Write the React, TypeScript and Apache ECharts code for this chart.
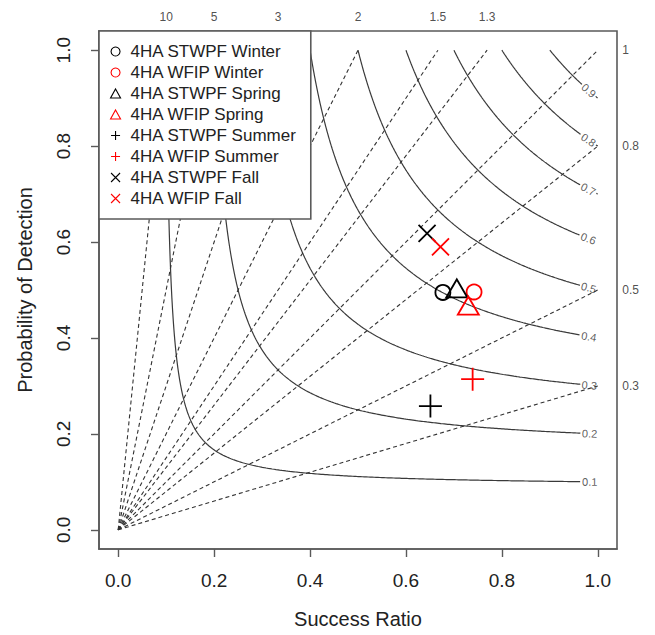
import React, { useEffect, useRef } from "react";
import * as echarts from "echarts";

// ---- data ----
const seriesNames = [
  "4HA STWPF Winter",
  "4HA WFIP Winter",
  "4HA STWPF Spring",
  "4HA WFIP Spring",
  "4HA STWPF Summer",
  "4HA WFIP Summer",
  "4HA STWPF Fall",
  "4HA WFIP Fall",
];
const successRatio = [0.677, 0.742, 0.706, 0.73, 0.651, 0.739, 0.644, 0.672];
const probDetection = [0.495, 0.496, 0.497, 0.461, 0.258, 0.314, 0.618, 0.59];
const seriesColors = ["#000000", "#ff0000", "#000000", "#ff0000", "#000000", "#ff0000", "#000000", "#ff0000"];
const seriesKinds = ["circle", "circle", "triangle", "triangle", "plus", "plus", "cross", "cross"];

// reference lines of the performance diagram
const csiLevels = [0.1, 0.2, 0.3, 0.4, 0.5, 0.6, 0.7, 0.8, 0.9];
const biasLevels = [0.3, 0.5, 0.8, 1, 1.3, 1.5, 2, 3, 5, 10];
const biasLabels = ["0.3", "0.5", "0.8", "1", "1.3", "1.5", "2", "3", "5", "10"];
const tickValues = [0, 0.2, 0.4, 0.6, 0.8, 1];

const FONT = "'Liberation Sans', Arial, Helvetica, sans-serif";
const PX = 480; // approx pixels per unit, used only for label gap placement

const PLUS = "path://M5 0L5 10M0 5L10 5";
const CROSS = "path://M0 0L10 10M10 0L0 10";

function podOf(c: number, sr: number) {
  return 1 / (1 / c + 1 - 1 / sr);
}

function buildContour(c: number) {
  const N = 220;
  const raw: number[][] = [];
  for (let i = 0; i <= N; i++) {
    const sr = c + ((1 - c) * i) / N;
    raw.push([sr, podOf(c, sr)]);
    const pod = c + ((1 - c) * i) / N;
    raw.push([podOf(c, pod), pod]);
  }
  raw.sort((a, b) => a[0] - b[0]);
  const pts: number[][] = [];
  for (const p of raw) {
    const l = pts[pts.length - 1];
    if (!l || Math.abs(l[0] - p[0]) > 1e-7 || Math.abs(l[1] - p[1]) > 1e-7) pts.push(p);
  }
  const n = pts.length;
  const dist = new Array(n).fill(0);
  for (let i = n - 2; i >= 0; i--) {
    dist[i] = dist[i + 1] + Math.hypot((pts[i + 1][0] - pts[i][0]) * PX, (pts[i + 1][1] - pts[i][1]) * PX);
  }
  const pointAt = (d: number) => {
    for (let i = n - 2; i >= 0; i--) {
      if (dist[i] >= d) {
        const t = (d - dist[i + 1]) / (dist[i] - dist[i + 1] || 1);
        return [pts[i + 1][0] + (pts[i][0] - pts[i + 1][0]) * t, pts[i + 1][1] + (pts[i][1] - pts[i + 1][1]) * t];
      }
    }
    return pts[0];
  };
  const thetaEnd = Math.atan(c * c);
  const dLabel = 8 + 6 * Math.sin(thetaEnd);
  const half = 9;
  const a = pointAt(dLabel + half);
  const main = pts.filter((_, i) => dist[i] > dLabel + half);
  main.push(a);
  let stub: number[][] = [];
  if (dLabel - half > 1.5) {
    const b = pointAt(dLabel - half);
    stub = [b, ...pts.filter((_, i) => dist[i] < dLabel - half)];
  }
  const lp = pointAt(dLabel);
  const p1 = pointAt(dLabel + 2);
  const p2 = pointAt(dLabel - 2);
  const ang = (Math.atan2(p2[1] - p1[1], p2[0] - p1[0]) * 180) / Math.PI;
  return { main, stub, label: lp, rotate: ang };
}

function symbolFor(kind: string) {
  if (kind === "circle") return "circle";
  if (kind === "triangle") return "triangle";
  if (kind === "plus") return PLUS;
  return CROSS;
}
function sizeFor(kind: string): any {
  if (kind === "circle") return 15;
  if (kind === "triangle") return [21, 18];
  if (kind === "plus") return 23;
  return 17;
}

const AXIS_GRAY = "#5a5a5a";

export default function App() {
  const ref = useRef<HTMLDivElement>(null);
  useEffect(() => {
    if (!ref.current) return;
    const chart = echarts.init(ref.current, undefined, { renderer: "svg" });

    const series: any[] = [];

    // CSI contours
    const contourLabels: any[] = [];
    csiLevels.forEach((c) => {
      const k = buildContour(c);
      series.push({
        type: "line",
        data: k.main,
        showSymbol: false,
        silent: true,
        lineStyle: { color: "#3a3a3a", width: 1.2 },
        z: 2,
      });
      if (k.stub.length > 1) {
        series.push({
          type: "line",
          data: k.stub,
          showSymbol: false,
          silent: true,
          lineStyle: { color: "#3a3a3a", width: 1.2 },
          z: 2,
        });
      }
      contourLabels.push({
        value: k.label,
        name: String(c),
        label: { rotate: k.rotate },
      });
    });
    series.push({
      type: "scatter",
      data: contourLabels,
      symbolSize: 1,
      silent: true,
      itemStyle: { color: "rgba(0,0,0,0)" },
      label: {
        show: true,
        position: "inside",
        formatter: (p: any) => p.name,
        fontFamily: FONT,
        fontSize: 11,
        color: "#333333",
      },
      z: 3,
    });

    // bias lines
    biasLevels.forEach((b) => {
      const end = b >= 1 ? [1 / b, 1] : [1, b];
      series.push({
        type: "line",
        data: [[0, 0], end],
        showSymbol: false,
        silent: true,
        lineStyle: { color: "#333", width: 1.1, type: [4, 3] },
        z: 2,
      });
    });
    // bias labels (top and right)
    const topData: any[] = [];
    const rightData: any[] = [];
    biasLevels.forEach((b, i) => {
      if (b > 1) topData.push({ value: [1 / b, 1], name: biasLabels[i] });
      else rightData.push({ value: [1, b], name: biasLabels[i] });
    });
    series.push({
      type: "scatter",
      data: topData,
      symbolSize: 1,
      silent: true,
      itemStyle: { color: "rgba(0,0,0,0)" },
      label: {
        show: true,
        position: "top",
        distance: 27,
        formatter: (p: any) => p.name,
        fontFamily: FONT,
        fontSize: 12,
        color: "#222",
      },
    });
    series.push({
      type: "scatter",
      data: rightData,
      symbolSize: 1,
      silent: true,
      itemStyle: { color: "rgba(0,0,0,0)" },
      label: {
        show: true,
        position: "right",
        distance: 24,
        formatter: (p: any) => p.name,
        fontFamily: FONT,
        fontSize: 12,
        color: "#222",
      },
    });

    // data points
    seriesNames.forEach((name, i) => {
      const kind = seriesKinds[i];
      series.push({
        type: "scatter",
        name,
        data: [[successRatio[i], probDetection[i]]],
        symbol: symbolFor(kind),
        symbolSize: sizeFor(kind),
        symbolOffset: kind === "triangle" ? [0, -3] : [0, 0],
        itemStyle: { color: "transparent", borderColor: seriesColors[i], borderWidth: 1.8, opacity: 1 },
        emphasis: { disabled: true },
        z: 5,
      });
    });

    const axisCommon = {
      type: "value",
      min: -0.04,
      max: 1.04,
      nameLocation: "middle",
      nameTextStyle: { fontFamily: FONT, fontSize: 20, color: "#222" },
      axisLine: { show: true, onZero: false, lineStyle: { color: AXIS_GRAY, width: 1.6 } },
      splitLine: { show: false },
      axisTick: { show: true, length: 8, inside: false, customValues: tickValues, lineStyle: { color: AXIS_GRAY, width: 1.4 } },
    };

    chart.setOption({
      animation: false,
      backgroundColor: "#ffffff",
      textStyle: { fontFamily: FONT },
      grid: {
        left: 99,
        top: 31,
        width: 518,
        height: 518,
        show: true,
        borderColor: AXIS_GRAY,
        borderWidth: 1.6,
        backgroundColor: "transparent",
      },
      xAxis: {
        ...axisCommon,
        position: "bottom",
        name: "Success Ratio",
        nameGap: 60,
        axisLabel: {
          customValues: tickValues,
          formatter: (v: number) => v.toFixed(1),
          margin: 22,
          fontFamily: FONT,
          fontSize: 19,
          color: "#222",
        },
      },
      yAxis: {
        ...axisCommon,
        position: "left",
        name: "Probability of Detection",
        nameGap: 64,
        axisLabel: {
          customValues: tickValues,
          formatter: (v: number) => v.toFixed(1),
          rotate: 90,
          margin: 26,
          fontFamily: FONT,
          fontSize: 19,
          color: "#222",
        },
      },
      legend: {
        data: seriesNames,
        orient: "vertical",
        left: 99,
        top: 31,
        padding: [10, 14, 10, 11],
        itemWidth: 10,
        itemHeight: 9,
        itemGap: 0,
        borderColor: AXIS_GRAY,
        borderWidth: 1.6,
        backgroundColor: "#ffffff",
        selectedMode: false,
        itemStyle: { borderWidth: 1.1 },
        textStyle: { fontFamily: FONT, fontSize: 17, color: "#222", lineHeight: 21, padding: [0, 0, 0, 5] },
        z: 10,
      },
      series,
    });

    return () => chart.dispose();
  }, []);
  return <div ref={ref} style={{ position: "fixed", left: 0, top: 0, width: 655, height: 635 }} />;
}
